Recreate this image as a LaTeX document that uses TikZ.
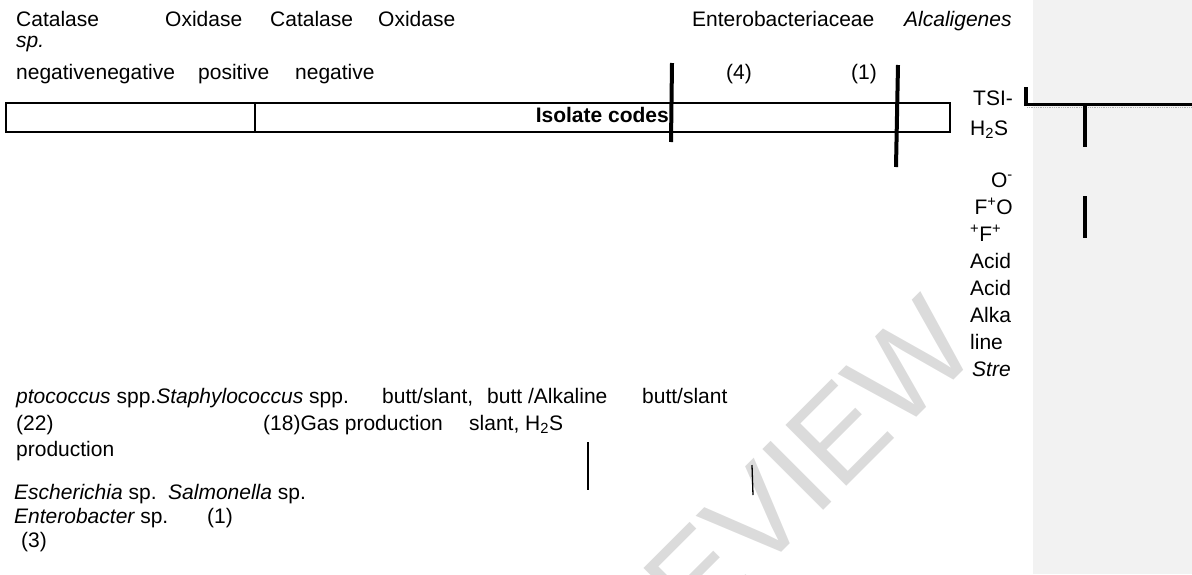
\documentclass[tikz,border=0pt]{standalone}
\usepackage{fontspec}
\setmainfont{Liberation Sans}
\begin{document}
\begin{tikzpicture}[x=1pt,y=-1pt,
  t/.style={anchor=base west, inner sep=0pt, font=\fontsize{21}{25}\selectfont},
  te/.style={t, anchor=base east},
  thickbar/.style={line width=4pt},
  thinbar/.style={line width=1.3pt},
  boxline/.style={line width=1.6pt},
  wmark/.style={text=black!14, inner sep=0pt, font=\fontsize{125}{125}\selectfont}]
\useasboundingbox (0,0) rectangle (1192,574);
% side panel
\fill[black!5] (1033,0) rectangle (1192,574);
% watermark
\node[wmark, rotate=45] (wm) at (748,525) {PREVIEW};
% header rows
\node[t] (c1) at (16,26) {Catalase};
\node[t] (o1) at (165,26) {Oxidase};
\node[t] (c2) at (270,26) {Catalase};
\node[t] (o2) at (378,26) {Oxidase};
\node[t] (ent) at (692,26) {Enterobacteriaceae};
\node[t] (alc) at (904,26) {\itshape Alcaligenes};
\node[t] (sp) at (16,47) {\itshape sp.};
\node[t] (neg) at (16,79) {negativenegative};
\node[t] (pos) at (198,79) {positive};
\node[t] (neg2) at (295,79) {negative};
\node[t] (n4) at (726,79) {(4)};
\node[t] (n1) at (851,79) {(1)};
% table row
\draw[boxline] (6,103) rectangle (950,132);
\draw[boxline] (255,103) -- (255,132);
\node[te] (iso) at (669,122) {\bfseries Isolate codes};
% thick bars
\coordinate (a1) at (672,63); \coordinate (a2) at (671,142);
\coordinate (b1) at (898,65); \coordinate (b2) at (896,167);
\draw[thickbar] (a1) -- (a2);
\draw[thickbar] (b1) -- (b2);
% right column
\node[t] (tsi) at (973,105) {TSI-};
\node[t] (h2s) at (970,135) {H\textsubscript{2}S};
\node[te] (om) at (1013,187) {O\textsuperscript{-}};
\node[te] (fo) at (1013,214) {F\textsuperscript{+}O};
\node[t] (ff) at (970,241) {\textsuperscript{+}F\textsuperscript{+}};
\node[t] (ac1) at (970,268) {Acid};
\node[t] (ac2) at (970,295) {Acid};
\node[t] (alk) at (970,322) {Alka};
\node[t] (lin) at (970,349) {line};
\node[t] (str) at (972,376) {\itshape Stre};
% panel marks
\coordinate (l1) at (1026,87); \coordinate (l2) at (1026,105);
\coordinate (h1) at (1024,104.5); \coordinate (h2) at (1192,104.5);
\coordinate (s1) at (1085,104); \coordinate (s2) at (1085,147);
\coordinate (p1) at (1085,196); \coordinate (p2) at (1085,238);
\draw[thickbar] (l1) -- (l2);
\draw[line width=3.5pt] (h1) -- (h2);
\draw[black!30, densely dotted, line width=0.8pt] (1027,107) -- (1192,107);
\draw[thickbar] (s1) -- (s2);
\draw[thickbar] (p1) -- (p2);
% lower rows
\node[t] (strep) at (16,403) {\itshape ptococcus\upshape\ spp.\itshape Staphylococcus\upshape\ spp.};
\node[t] (bs1) at (382,403) {butt/slant,};
\node[t] (ba) at (487,403) {butt /Alkaline};
\node[t] (bs2) at (642,403) {butt/slant};
\node[t] (n22) at (16,430) {(22)};
\node[t] (gas) at (263,430) {(18)Gas production};
\node[t] (sl) at (469,430) {slant, H\textsubscript{2}S};
\node[t] (prod) at (16,456) {production};
\coordinate (m1) at (588,442); \coordinate (m2) at (588,490);
\coordinate (k1) at (752,465); \coordinate (k2) at (753,495);
\draw[thinbar] (m1) -- (m2);
\draw[thinbar] (k1) -- (k2);
\node[t] (esc) at (14,499) {\itshape Escherichia\upshape\ sp.};
\node[t] (sal) at (168,499) {\itshape Salmonella\upshape\ sp.};
\node[t] (entb) at (14,523) {\itshape Enterobacter\upshape\ sp.};
\node[t] (o1b) at (207,523) {(1)};
\node[t] (n3) at (21,547) {(3)};
\end{tikzpicture}
\end{document}
